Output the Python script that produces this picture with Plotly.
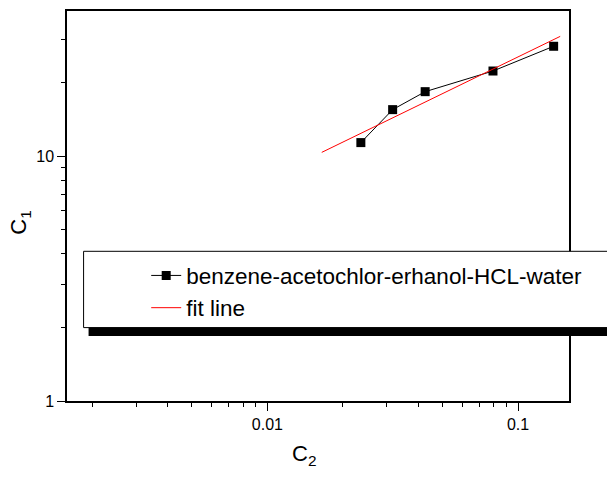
import plotly.graph_objects as go

# Measured concentrations (log-log distribution data)
c2_values = [0.0236, 0.0316, 0.0426, 0.0794, 0.1386]
c1_values = [11.38, 15.52, 18.38, 22.32, 28.17]

# End points of the fitted straight line (in log-log space)
fit_c2 = [0.01648, 0.1472]
fit_c1 = [10.38, 30.92]

series_name = "benzene-acetochlor-erhanol-HCL-water"
fit_name = "fit line"

x_major = [0.01, 0.1]
x_major_text = ["0.01", "0.1"]
x_minor = [0.002, 0.003, 0.004, 0.005, 0.006, 0.007, 0.008, 0.009,
           0.02, 0.03, 0.04, 0.05, 0.06, 0.07, 0.08, 0.09]
y_major = [1, 10]
y_major_text = ["1", "10"]
y_minor = [2, 3, 4, 5, 6, 7, 8, 9, 20, 30]

W, H = 607, 478
ML, MR, MT, MB = 66.7, 37.7, 10.7, 77.3
PW, PH = W - ML - MR, H - MT - MB


def px_x(p):
    return (p - ML) / PW


def px_y(p):
    return (H - MB - p) / PH


font_family = "Liberation Sans, Arial, sans-serif"

fig = go.Figure()
fig.add_trace(go.Scatter(
    x=c2_values, y=c1_values, mode="lines+markers", name=series_name,
    line=dict(color="black", width=1),
    marker=dict(symbol="square", size=9, color="black"),
))
fig.add_trace(go.Scatter(
    x=fit_c2, y=fit_c1, mode="lines", name=fit_name,
    line=dict(color="#ff0000", width=1),
))

axis_common = dict(
    type="log", showgrid=False, zeroline=False,
    showline=True, linecolor="black", linewidth=1.5, mirror=True,
    ticks="outside", ticklen=8, tickwidth=1, tickcolor="black",
    tickfont=dict(family=font_family, size=16, color="black"),
    tickmode="array",
)

fig.update_xaxes(
    **axis_common, range=[-2.799, -0.797],
    tickvals=x_major, ticktext=x_major_text,
    minor=dict(tickmode="array", tickvals=x_minor, ticks="outside",
               ticklen=4, tickwidth=1, tickcolor="black", showgrid=False),
)
fig.update_yaxes(
    **axis_common, range=[0, 1.594],
    tickvals=y_major, ticktext=y_major_text,
    minor=dict(tickmode="array", tickvals=y_minor, ticks="outside",
               ticklen=4, tickwidth=1, tickcolor="black", showgrid=False),
)

# Legend frame with drop shadow
legend_left, legend_top, legend_bottom = 83.3, 251, 327.3
fig.add_shape(type="rect", xref="paper", yref="paper", layer="above",
              x0=px_x(legend_left + 5), x1=px_x(W + 20),
              y0=px_y(legend_bottom + 8.5), y1=px_y(legend_top + 5),
              fillcolor="black", line=dict(width=0))
fig.add_shape(type="rect", xref="paper", yref="paper", layer="above",
              x0=px_x(legend_left), x1=px_x(W + 20),
              y0=px_y(legend_bottom), y1=px_y(legend_top),
              fillcolor="white", line=dict(color="black", width=1))

fig.update_layout(
    width=W, height=H,
    margin=dict(l=ML, r=MR, t=MT, b=MB, pad=0),
    paper_bgcolor="white", plot_bgcolor="white",
    showlegend=True,
    legend=dict(
        x=px_x(146), y=px_y(254), xanchor="left", yanchor="top",
        bgcolor="rgba(0,0,0,0)", borderwidth=0,
        font=dict(family=font_family, size=22.5, color="black"),
        tracegroupgap=0,
    ),
    annotations=[
        dict(text="C<sub>1</sub>", xref="paper", yref="paper",
             x=px_x(4), y=px_y(222), showarrow=False, textangle=-90,
             font=dict(family=font_family, size=22, color="black")),
        dict(text="C<sub>2</sub>", xref="paper", yref="paper",
             x=px_x(304), y=px_y(471), showarrow=False,
             font=dict(family=font_family, size=22, color="black")),
    ],
)

fig.write_html("out.html")
